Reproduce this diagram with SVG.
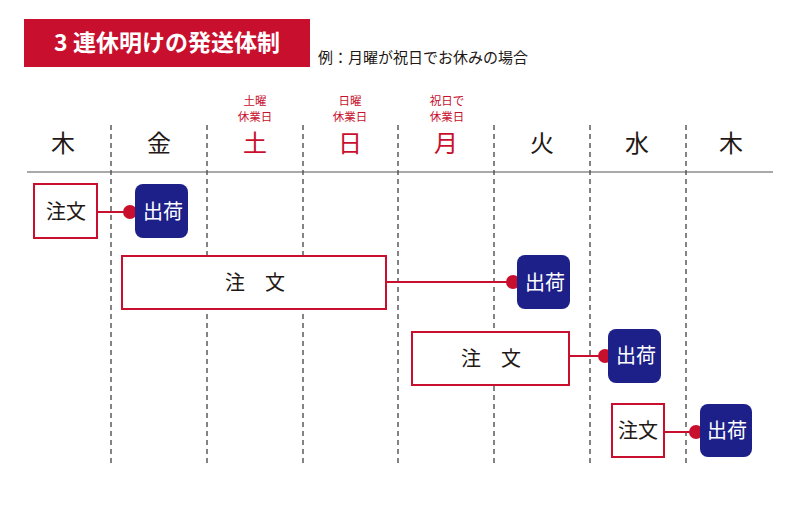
<svg xmlns="http://www.w3.org/2000/svg" width="800" height="506" viewBox="0 0 800 506">
<style>
text{font-family:"Noto Sans CJK JP","Noto Sans CJK SC",sans-serif;}
.day{font-size:24px;text-anchor:middle;fill:#231815;}
.hol{fill:#c8102e;}
.small{font-size:11.5px;text-anchor:middle;fill:#c8102e;}
.grid{stroke:#333;stroke-width:1.2;stroke-dasharray:5,4;}
.order{fill:#fff;stroke:#c8102e;stroke-width:2;}
.ship{fill:#1d2088;}
.ot{font-size:20px;text-anchor:middle;fill:#231815;}
.st{font-size:20px;text-anchor:middle;fill:#fff;}
.conn{stroke:#c8102e;stroke-width:2;fill:none;}
.dot{fill:#c8102e;}
</style>
<rect width="800" height="506" fill="#fff"/>
<g id="title">
<rect x="24" y="19" width="286" height="48" fill="#c8102e"/>
<text x="167" y="51" font-size="23" font-weight="bold" fill="#fff" text-anchor="middle">3 連休明けの発送体制</text>
<text x="318" y="63" font-size="15" fill="#231815">例：月曜が祝日でお休みの場合</text>
</g>
<g id="grid">
<line class="grid" x1="111" y1="125" x2="111" y2="467"/>
<line class="grid" x1="207" y1="125" x2="207" y2="467"/>
<line class="grid" x1="303" y1="125" x2="303" y2="467"/>
<line class="grid" x1="398" y1="125" x2="398" y2="467"/>
<line class="grid" x1="494" y1="125" x2="494" y2="467"/>
<line class="grid" x1="590" y1="125" x2="590" y2="467"/>
<line class="grid" x1="686" y1="125" x2="686" y2="467"/>
<line x1="27" y1="172" x2="773" y2="172" stroke="#555" stroke-width="1.2"/>
</g>
<g id="headers">
<text class="day" x="63" y="152">木</text>
<text class="day" x="159" y="152">金</text>
<text class="day hol" x="255" y="152">土</text>
<text class="day hol" x="350" y="152">日</text>
<text class="day hol" x="446" y="152">月</text>
<text class="day" x="542" y="152">火</text>
<text class="day" x="637" y="152">水</text>
<text class="day" x="731" y="152">木</text>
<text class="small" x="255" y="105">土曜</text>
<text class="small" x="255" y="121">休業日</text>
<text class="small" x="350" y="105">日曜</text>
<text class="small" x="350" y="121">休業日</text>
<text class="small" x="447" y="105">祝日で</text>
<text class="small" x="447" y="121">休業日</text>
</g>
<g id="connectors">
<line class="conn" x1="97" y1="212" x2="130" y2="212"/>
<circle class="dot" cx="130" cy="212" r="7"/>
<line class="conn" x1="386" y1="282" x2="513" y2="282"/>
<circle class="dot" cx="513" cy="282" r="7"/>
<line class="conn" x1="569" y1="356" x2="605" y2="356"/>
<circle class="dot" cx="605" cy="356" r="7"/>
<line class="conn" x1="664" y1="432" x2="696" y2="432"/>
<circle class="dot" cx="696" cy="432" r="7"/>
</g>
<g id="order1"><rect class="order" x="34" y="184" width="63" height="54"/><text class="ot" x="66" y="219">注文</text></g>
<g id="ship1"><rect class="ship" x="135" y="184" width="53" height="54" rx="8"/><text class="st" x="163" y="219">出荷</text></g>
<g id="order2"><rect class="order" x="122" y="256" width="264" height="53"/><text class="ot" x="255" y="290" xml:space="preserve">注　文</text></g>
<g id="ship2"><rect class="ship" x="517" y="255" width="53" height="54" rx="8"/><text class="st" x="545" y="290">出荷</text></g>
<g id="order3"><rect class="order" x="412" y="332" width="157" height="53"/><text class="ot" x="491" y="366" xml:space="preserve">注　文</text></g>
<g id="ship3"><rect class="ship" x="608" y="329" width="53" height="54" rx="8"/><text class="st" x="636" y="363">出荷</text></g>
<g id="order4"><rect class="order" x="612" y="404" width="52" height="53"/><text class="ot" x="638" y="438">注文</text></g>
<g id="ship4"><rect class="ship" x="700" y="404" width="52" height="53" rx="8"/><text class="st" x="727" y="438">出荷</text></g>
</svg>
